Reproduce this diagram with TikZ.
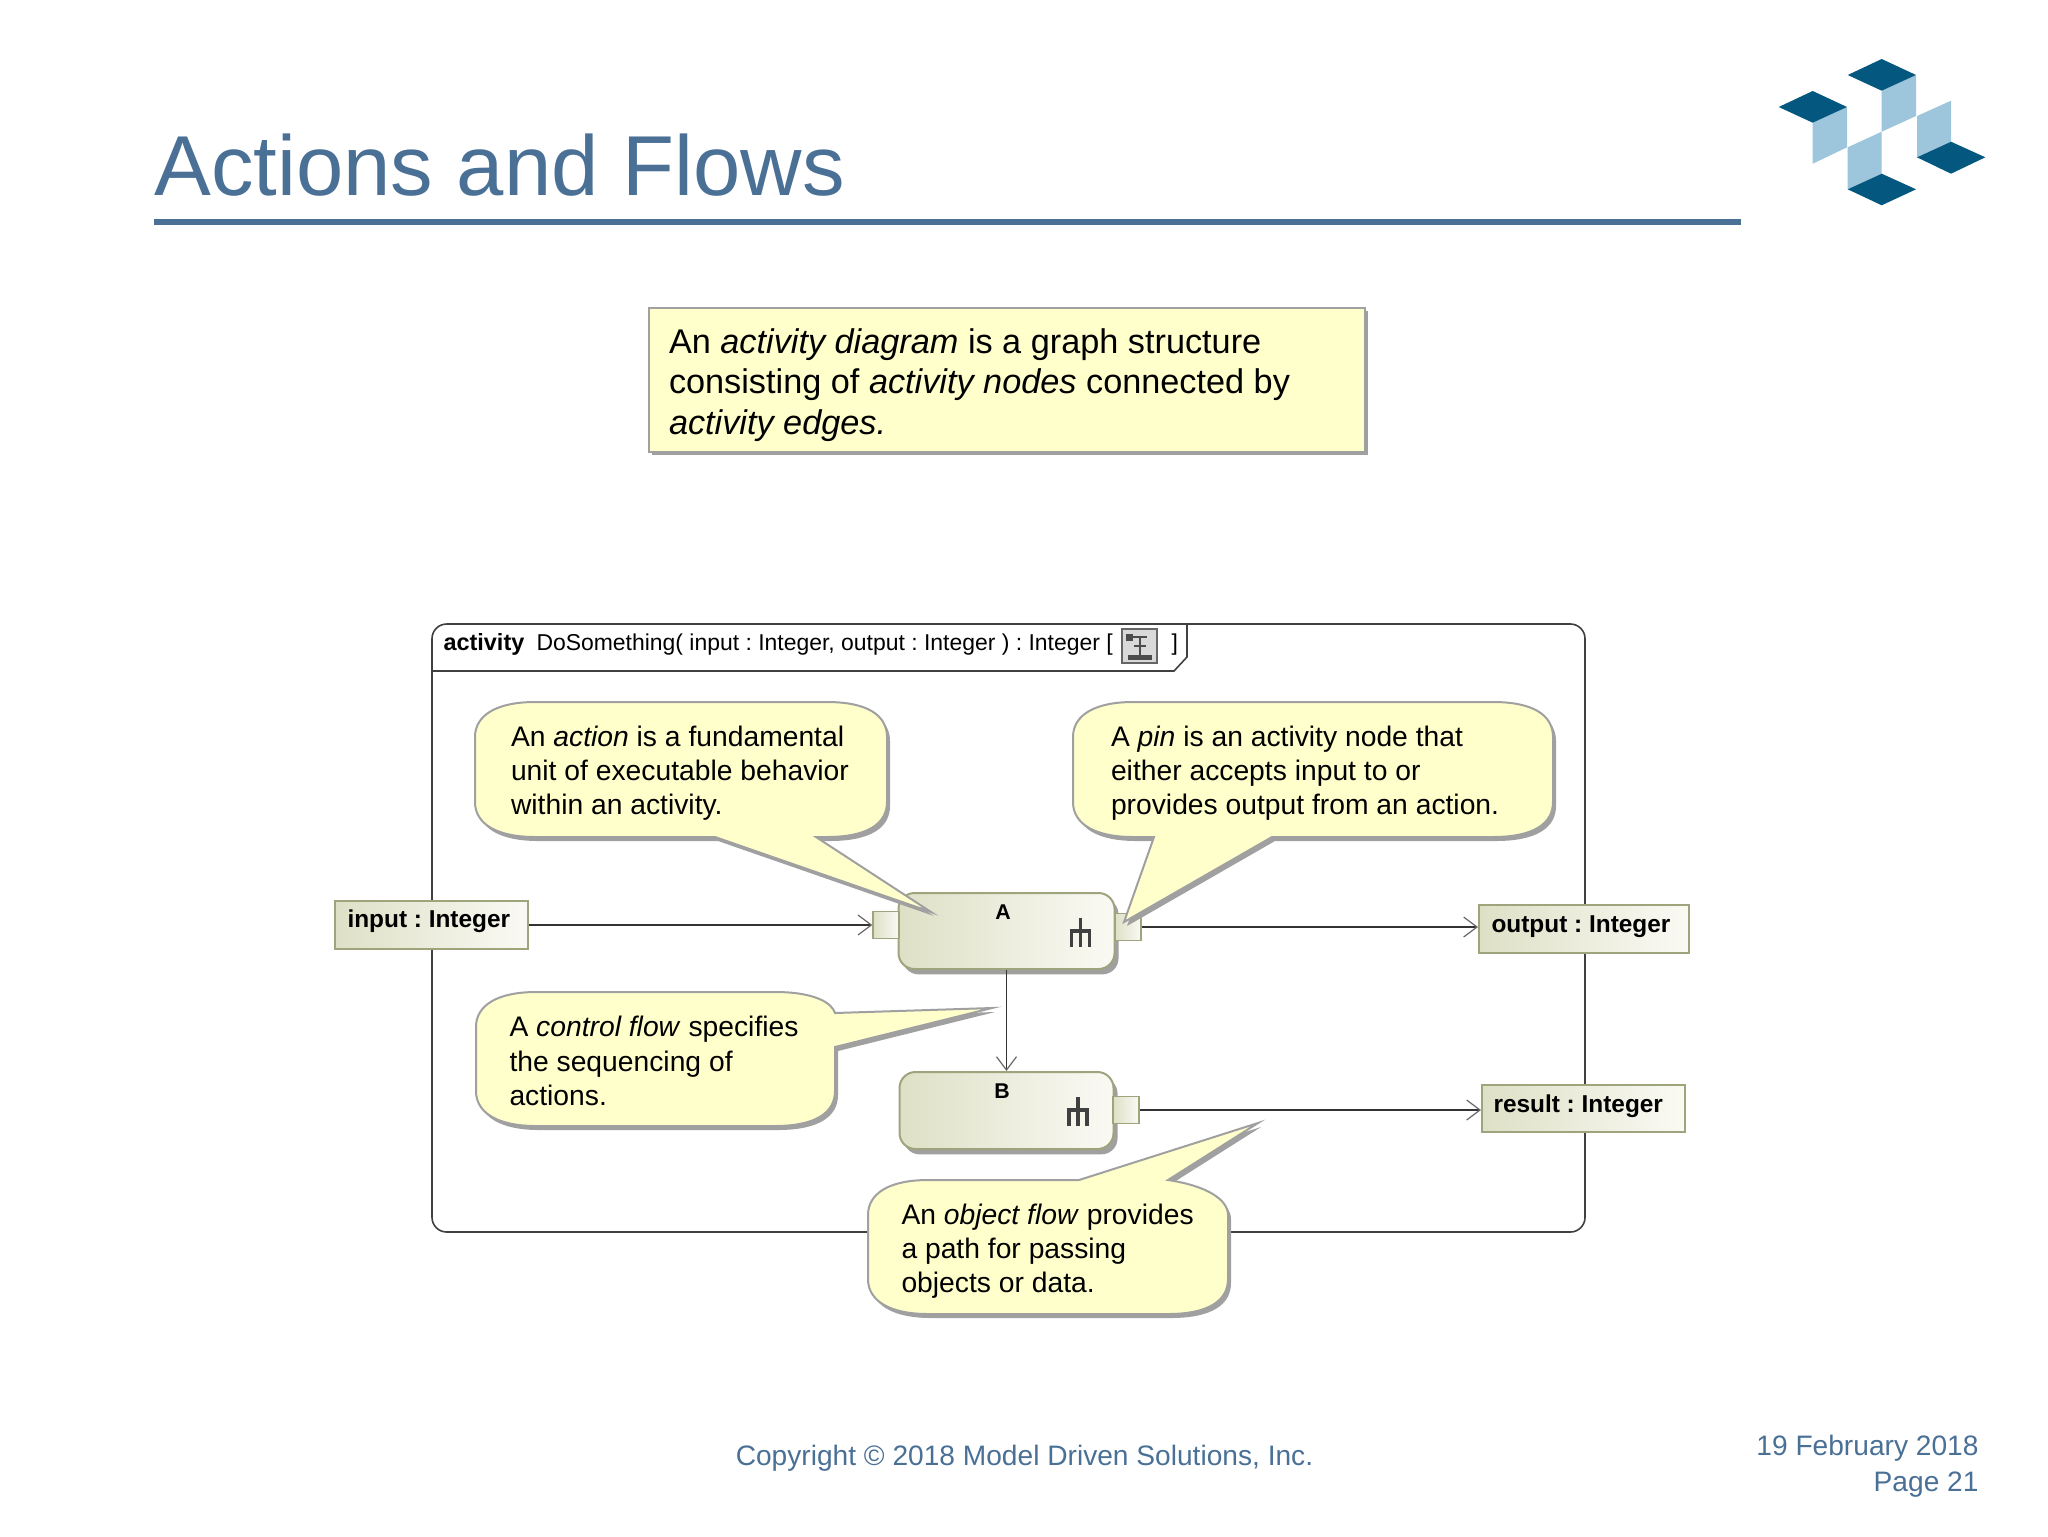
\documentclass[tikz,border=0pt]{standalone}
\usepackage{fontspec}
\setmainfont{Liberation Sans}
\usetikzlibrary{arrows.meta, shadows}
\definecolor{slateblue}{RGB}{74,112,150}
\definecolor{logodark}{RGB}{4,87,126}
\definecolor{logolight}{RGB}{157,197,220}
\definecolor{notefill}{RGB}{255,255,204}
\definecolor{notegray}{RGB}{160,160,160}
\definecolor{umlleft}{RGB}{222,224,198}
\definecolor{umlright}{RGB}{250,250,244}
\definecolor{umledge}{RGB}{160,164,125}
\tikzset{every picture/.style={line width=0.75pt},
  balloonbody/.style={draw=notegray,line width=1.5pt,fill=notefill},
  balloonshade/.style={fill=notegray},
  balloontext/.style={anchor=west,inner sep=0pt,align=left,font=\fontsize{21.2}{25.7}\selectfont},
  notebox/.style={draw=notegray,line width=1.5pt,fill=notefill,minimum width=537pt,minimum height=108pt,inner sep=0pt,drop shadow={shadow xshift=2.5pt,shadow yshift=-2.5pt,fill=notegray,opacity=1}},
  notetext/.style={anchor=west,inner sep=0pt,align=left,font=\fontsize{25.7}{30.5}\selectfont},
  actionbox/.style={draw=umledge,line width=1.5pt,rounded corners=12pt,left color=umlleft,right color=umlright,inner sep=0pt,drop shadow={shadow xshift=3pt,shadow yshift=-4pt,fill=notegray,opacity=1}},
  pinbox/.style={draw=umledge,line width=1pt,left color=umlleft,right color=umlright,inner sep=0pt,minimum width=19.5pt,minimum height=20pt},
  parambox/.style={draw=umledge,line width=1.5pt,left color=umlleft,right color=umlright,inner sep=0pt},
  paramtext/.style={anchor=base west,inner sep=0pt,font=\fontsize{18.3}{22}\selectfont\bfseries},
  actionlabel/.style={anchor=base,inner sep=0pt,font=\fontsize{16}{20}\selectfont\bfseries},
  headtext/.style={anchor=base west,inner sep=0pt,font=\fontsize{17.2}{21}\selectfont},
  flowline/.style={draw=black!80,line width=1.3pt,-{Straight Barb[length=10pt,width=15pt,line width=0.9pt,color=black!60]}},
  slidetext/.style={text=slateblue,inner sep=0pt,font=\fontsize{21.1}{27}\selectfont}}
\newcommand{\balloon}[1]{\fill[balloonshade,shift={(3,4)}] #1;
  \draw[balloonbody] #1;}
\newcommand{\rakeicon}[2]{\draw[line width=2.6pt,black!75] (#1,#2) -- (#1,#2+29) (#1-9,#2+29) -- (#1-9,#2+13) -- (#1+9,#2+13) -- (#1+9,#2+29);}

\begin{document}
\frenchspacing
\begin{tikzpicture}[x=0.75pt,y=0.75pt,yscale=-1,xscale=1]
\useasboundingbox (0,0) rectangle (2048,1536);

% Slide title
\node [anchor=base west,inner sep=0pt,text=slateblue,font=\fontsize{63.8}{70}\selectfont] (title) at (154,195) {Actions and Flows};
\draw [slateblue,line width=4.5pt] (154,222) -- (1741,222) ;

% Logo
\fill [logolight] (1881.7,90.7) -- (1916,75) -- (1916,116) -- (1881.7,131.7) -- cycle ;
\fill [logolight] (1812.7,122.7) -- (1847,107) -- (1847,147.3) -- (1812.7,163.7) -- cycle ;
\fill [logolight] (1847.7,147.3) -- (1881.7,131.7) -- (1881.7,173.7) -- (1847.7,189.3) -- cycle ;
\fill [logolight] (1917,116) -- (1951,100.7) -- (1951,141.7) -- (1917,157.3) -- cycle ;
\fill [logodark] (1847.7,75) -- (1881.7,59) -- (1916,75) -- (1881.7,90.7) -- cycle ;
\fill [logodark] (1778.7,107) -- (1812.7,91) -- (1847,107) -- (1812.7,122.7) -- cycle ;
\fill [logodark] (1917,157.3) -- (1951,141.7) -- (1985.3,157.3) -- (1951,173.7) -- cycle ;
\fill [logodark] (1847.7,189.3) -- (1881.7,173.7) -- (1916,189.3) -- (1881.7,205.3) -- cycle ;

% Note box
\node [notebox] (note) at (1007,380) {};
\node [notetext] (notewords) at (668.5,385) {An \textit{activity diagram} is a graph structure\\consisting of \textit{activity nodes} connected by\\\textit{activity edges.}};

% Activity frame
\node [draw=black!75,line width=1.2pt,rounded corners=11pt,inner sep=0pt,minimum width=864.75pt,minimum height=456pt] (frame) at (1008.5,928) {};
\draw [black!75,line width=1.2pt] (432,671) -- (1174,671) -- (1187,657) -- (1187,624) ;

% Text Node
\node [headtext,font=\fontsize{17.6}{21}\selectfont\bfseries] (headkind) at (443,650) {activity};
\node [headtext] (headname) at (536,650) {DoSomething( input : Integer, output : Integer ) : Integer [};
\node [headtext] (headclose) at (1171,650) {]};

% Diagram icon
\draw [fill=black!15,draw=black!60,line width=0.8pt] (1122,629) rectangle (1157,663) ;
\fill [black!70] (1126,634) rectangle (1133,641) ;
\draw [black!70,line width=0.8pt] (1133,637) -- (1147,637) (1140,637) -- (1140,656) (1134,646) -- (1146,646) ;
\fill [black!70] (1128,655) rectangle (1152,660) ;

% Parameters
\node [parambox,minimum width=144.4pt,minimum height=36pt] (input) at (431.75,925) {};
\node [parambox,minimum width=157.5pt,minimum height=36pt] (output) at (1584,929) {};
\node [parambox,minimum width=152.25pt,minimum height=35.25pt] (result) at (1583.5,1108.5) {};
\node [paramtext] (inputtext) at (347,927) {input : Integer};
\node [paramtext] (outputtext) at (1491,932) {output : Integer};
\node [paramtext] (resulttext) at (1493,1112) {result : Integer};

% Actions
\node [actionbox,minimum width=162pt,minimum height=57pt] (actionA) at (1006.5,931) {};
\node [actionbox,minimum width=160.5pt,minimum height=57.75pt] (actionB) at (1006.5,1110.5) {};
\node [pinbox] (pinAin) at (886,925) {};
\node [pinbox] (pinAout) at (1128,927) {};
\node [pinbox] (pinBout) at (1126,1110) {};
\node [actionlabel] (labelA) at (1003,919) {A};
\node [actionlabel] (labelB) at (1002,1098) {B};
\rakeicon{1080.6}{918}
\rakeicon{1078}{1097}

% Flows
\draw [flowline] (input.east) -- (pinAin.west) ;
\draw [flowline] (pinAout.east) -- (pinAout.east -| output.west) ;
\draw [flowline] (actionA.south) -- (actionA.south |- actionB.north) ;
\draw [flowline] (pinBout.east) -- (pinBout.east -| result.west) ;

% Balloons
\balloon{(475,737) .. controls (475,715) and (497,702) .. (535,702) -- (827,702) .. controls (867,702) and (887,715) .. (887,737) -- (887,802) .. controls (887,824) and (867,837) .. (827,837) -- (816,837) -- (931,912) -- (715,837) -- (535,837) .. controls (497,837) and (475,824) .. (475,802) -- cycle}
\balloon{(1073,737) .. controls (1073,715) and (1095,702) .. (1133,702) -- (1493,702) .. controls (1533,702) and (1553,715) .. (1553,737) -- (1553,802) .. controls (1553,824) and (1533,837) .. (1493,837) -- (1272,837) -- (1124,922) -- (1154,837) -- (1133,837) .. controls (1095,837) and (1073,824) .. (1073,802) -- cycle}
\balloon{(476,1027) .. controls (476,1005) and (498,992) .. (536,992) -- (775,992) .. controls (815,992) and (832,1003) .. (835,1013) -- (992,1008) -- (835,1047) -- (835,1091) .. controls (835,1113) and (815,1126) .. (775,1126) -- (536,1126) .. controls (498,1126) and (476,1113) .. (476,1091) -- cycle}
\balloon{(868,1215) .. controls (868,1193) and (890,1180) .. (928,1180) -- (1079,1180) -- (1258,1123) -- (1168,1180) .. controls (1208,1186) and (1228,1200) .. (1228,1215) -- (1228,1279) .. controls (1228,1301) and (1208,1314) .. (1168,1314) -- (928,1314) .. controls (890,1314) and (868,1301) .. (868,1279) -- cycle}

% Text Node
\node [balloontext] (actiontext) at (510.5,773) {An \textit{action} is a fundamental\\unit of executable behavior\\within an activity.};
\node [balloontext] (pintext) at (1110.5,773) {A \textit{pin} is an activity node that\\either accepts input to or\\provides output from an action.};
\node [balloontext] (controltext) at (509,1061) {A \textit{control flow} specifies\\the sequencing of\\actions.};
\node [balloontext] (objecttext) at (901,1251) {An \textit{object flow} provides\\a path for passing\\objects or data.};

% Footer
\node [slidetext,anchor=base] (copyright) at (1024.5,1465) {Copyright © 2018 Model Driven Solutions, Inc.};
\node [slidetext,anchor=base east] (date) at (1979,1455) {19 February 2018};
\node [slidetext,anchor=base east] (page) at (1979,1491) {Page 21};

\end{tikzpicture}
\end{document}
